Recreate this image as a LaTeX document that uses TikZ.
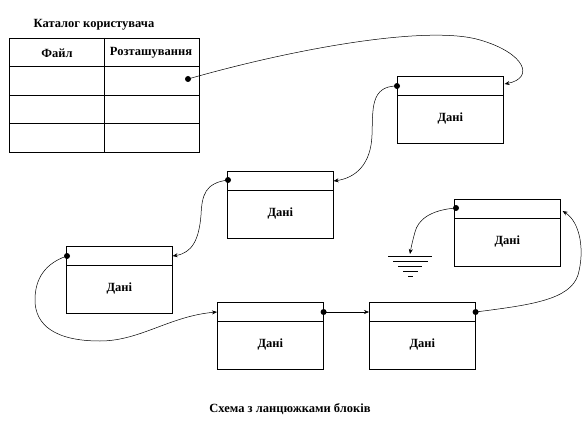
\documentclass[tikz,border=0pt]{standalone}
\usepackage{fontspec}
\setmainfont{Liberation Serif}
\usetikzlibrary{arrows.meta,calc}
\begin{document}
\begin{tikzpicture}[x=1pt,y=-1pt,
  lbl/.style={font=\fontsize{12.5}{14}\selectfont\bfseries, inner sep=0pt},
  blk/.style={draw, line width=0.6pt, minimum width=106pt, minimum height=67pt, inner sep=0pt, anchor=north west},
  dot/.style={circle, fill=black, inner sep=0pt, minimum size=6pt},
  link/.style={line width=0.5pt, -{Stealth[length=5pt,width=4pt]}},
  gl/.style={line width=0.6pt}]
\useasboundingbox (0,0) rectangle (588,422);
% table
\node[lbl] (title) at (94,25) {Каталог користувача};
\node[draw, line width=0.6pt, minimum width=190pt, minimum height=114pt, inner sep=0pt, anchor=north west] (tbl) at (9,38) {};
\draw[line width=0.6pt] (9,66) -- (199,66) (9,95) -- (199,95) (9,123) -- (199,123) (104,38) -- (104,152);
\node[lbl] (hf) at (57,53) {Файл};
\node[lbl] (hr) at (151,53) {Розташування};
\node[dot] (d0) at (188,79) {};
% blocks
\foreach \n/\x/\y in {1/397/76, 2/227/171, 3/66/246, 4/217/302, 5/369/302, 6/454/199}{
  \node[blk] (b\n) at (\x,\y) {};
  \draw[line width=0.6pt] ($(b\n.north west)+(0,19)$) -- ($(b\n.north east)+(0,19)$);
  \node[lbl] (t\n) at ($(b\n.south)+(0,-25)$) {Дані};
}
\node[dot] (d1) at ($(b1.north west)+(0,10)$) {};
\node[dot] (d2) at ($(b2.north west)+(1,9)$) {};
\node[dot] (d3) at ($(b3.north west)+(1,10)$) {};
\node[dot] (d4) at ($(b4.north east)+(0,10)$) {};
\node[dot] (d5) at ($(b5.north east)+(0,10)$) {};
\node[dot] (d6) at ($(b6.north west)+(2,9)$) {};
\coordinate (i1) at ($(b1.north east)+(1,8)$);
\coordinate (i2) at ($(b2.north east)+(0,10)$);
\coordinate (i3) at ($(b3.north east)+(0,10)$);
\coordinate (i4) at ($(b4.north west)+(0,10)$);
\coordinate (i5) at ($(b5.north west)+(0,10)$);
\coordinate (i6) at ($(b6.north east)+(2,12)$);
% ground
\coordinate (gnd) at (410,254);
\draw[gl] (388,256) -- (432,256) (393,261) -- (428,261) (398,266) -- (422,266) (403,271) -- (418,271) (408,276) -- (413,276);
% links
\draw[link] (d0.center) .. controls (300,47) and (430,25) .. (480,40) .. controls (525,53) and (535,78) .. (i1);
\draw[link] (d1.center) .. controls (370,86) and (373,110) .. (372,135) .. controls (371,165) and (355,178) .. (i2);
\draw[link] (d2.center) .. controls (205,183) and (202,195) .. (201,215) .. controls (199,240) and (192,253) .. (i3);
\draw[link] (d3.center) .. controls (40,265) and (35,285) .. (35,300) .. controls (35,325) and (55,341) .. (100,341) .. controls (140,341) and (170,316) .. (i4);
\draw[link] (d4.center) -- (i5);
\draw[link] (d5.center) .. controls (530,305) and (570,300) .. (578,275) .. controls (585,250) and (580,222) .. (i6);
\draw[link] (d6.center) .. controls (430,210) and (418,220) .. (415,232) .. controls (412,243) and (411,248) .. (gnd);
% caption
\node[lbl] (cap) at (290,409) {Схема з ланцюжками блоків};
\end{tikzpicture}
\end{document}
